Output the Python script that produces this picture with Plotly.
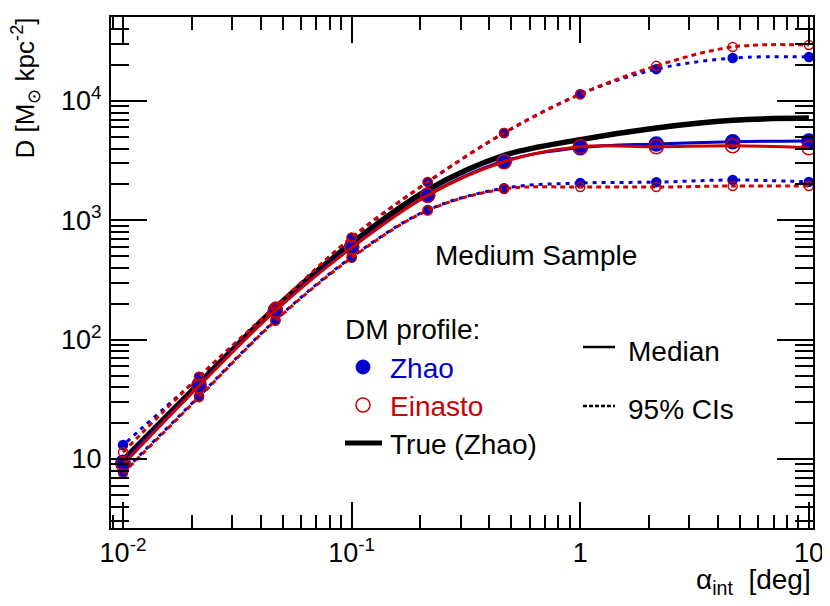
import plotly.graph_objects as go

# integration angle [deg]
alpha = [0.01, 0.0215, 0.0464, 0.1, 0.215, 0.464, 1.0, 2.15, 4.64, 10.0]

# Zhao fit: median and 95% CIs
zhao_med = [9.4, 41.7, 177, 600, 1630, 3140, 4060, 4370, 4560, 4620]
zhao_hi = [13.1, 48.6, 187, 711, 2090, 5400, 11400, 18500, 22900, 23400]
zhao_lo = [7.8, 33.6, 146, 492, 1220, 1860, 2055, 2090, 2180, 2100]

# Einasto fit: median and 95% CIs
ein_med = [9.0, 41.0, 175, 590, 1620, 3100, 4140, 4140, 4220, 4060]
ein_hi = [11.4, 49.0, 190, 720, 2100, 5400, 11400, 19700, 28400, 29400]
ein_lo = [7.6, 33.0, 144, 485, 1210, 1830, 1900, 1900, 1940, 1940]

# true curve (Zhao)
true_zhao = [9.8, 43, 185, 645, 1800, 3500, 4750, 5950, 6900, 7200]

xticks = [0.01, 0.1, 1, 10]
xticktext = ["10<sup>-2</sup>", "10<sup>-1</sup>", "1", "10"]
yticks = [10, 100, 1000, 10000]
yticktext = ["10", "10<sup>2</sup>", "10<sup>3</sup>", "10<sup>4</sup>"]

BLUE = "#0000cc"
RED = "#cc0000"
FONT = "Liberation Sans"

xminor = [m * 10 ** d for d in range(-3, 2) for m in range(2, 10)]
yminor = [m * 10 ** d for d in range(0, 5) for m in range(2, 10)]

fig = go.Figure()

fig.add_trace(go.Scatter(x=alpha, y=true_zhao, mode="lines",
                         line=dict(color="black", width=5.5, shape="spline")))


def add_fit(med, hi, lo, color, symbol, dots):
    for ys, dash, size in [(hi, dots, 9), (lo, dots, 9), (med, "solid", 14)]:
        fig.add_trace(go.Scatter(
            x=alpha, y=ys, mode="lines+markers",
            line=dict(color=color, width=3, dash=dash, shape="spline"),
            marker=dict(symbol=symbol, size=size, color=color,
                        line=dict(color=color, width=1.5))))


# blue dots sit in the gaps of the red ones, as in the original
add_fit(zhao_med, zhao_hi, zhao_lo, BLUE, "circle", "0px,5px,4px,0px")
add_fit(ein_med, ein_hi, ein_lo, RED, "circle-open", "5px,4px")

# the page has an 8px body margin, so the figure starts at (8, 8) in the window
PLOT_L, PLOT_T, PLOT_W, PLOT_H = 103, 9, 702, 511


def px_x(p):
    return (p - 8 - PLOT_L) / float(PLOT_W)


def px_y(p):
    return (PLOT_T + PLOT_H - (p - 8)) / float(PLOT_H)


notes = [
    ("Medium Sample", 536, 255, "center", "black"),
    ("DM profile:", 343, 329, "left", "black"),
    ("Zhao", 388, 368, "left", BLUE),
    ("Einasto", 388, 406, "left", RED),
    ("True (Zhao)", 388, 444, "left", "black"),
    ("Median", 626, 351, "left", "black"),
    ("95% CIs", 626, 409, "left", "black"),
]
for txt, x0, y0, anchor, col in notes:
    fig.add_annotation(text=txt, x=px_x(x0), y=px_y(y0), xref="paper", yref="paper",
                       xanchor=anchor, yanchor="middle", showarrow=False,
                       font=dict(family=FONT, size=28, color=col))

# legend symbols
fig.add_shape(type="circle", xref="paper", yref="paper", xsizemode="pixel", ysizemode="pixel",
              xanchor=px_x(363), yanchor=px_y(367), x0=-7, x1=7, y0=-7, y1=7,
              fillcolor=BLUE, line=dict(color=BLUE, width=1))
fig.add_shape(type="circle", xref="paper", yref="paper", xsizemode="pixel", ysizemode="pixel",
              xanchor=px_x(363), yanchor=px_y(405), x0=-7, x1=7, y0=-7, y1=7,
              line=dict(color=RED, width=1.5))
fig.add_shape(type="line", xref="paper", yref="paper", x0=px_x(345), x1=px_x(382),
              y0=px_y(443), y1=px_y(443), line=dict(color="black", width=5))
fig.add_shape(type="line", xref="paper", yref="paper", x0=px_x(583), x1=px_x(615),
              y0=px_y(347), y1=px_y(347), line=dict(color="black", width=2.5))
fig.add_shape(type="line", xref="paper", yref="paper", x0=px_x(583), x1=px_x(615),
              y0=px_y(406), y1=px_y(406), line=dict(color="black", width=2.5, dash="4px,2px"))

# axis titles
fig.add_annotation(text="D [M<sub>⊙</sub> kpc<sup>-2</sup>]", textangle=-90,
                   x=px_x(25), y=px_y(16), xref="paper", yref="paper",
                   xanchor="center", yanchor="top", showarrow=False,
                   font=dict(family=FONT, size=26, color="black"))
fig.add_annotation(text="α<sub>int</sub>  [deg]", x=1.0, y=px_y(581),
                   xref="paper", yref="paper", xanchor="right", yanchor="middle",
                   showarrow=False, font=dict(family=FONT, size=28, color="black"))

fig.update_xaxes(type="log", range=[-2.0526, 1.0178], tickvals=xticks, ticktext=xticktext,
                 ticks="inside", ticklen=26, tickwidth=1.5, tickcolor="black",
                 showline=True, linewidth=2, linecolor="black", mirror="ticks",
                 showgrid=False, zeroline=False, ticklabelstandoff=0, automargin=False,
                 ticklabeloverflow="allow",
                 minor=dict(tickvals=xminor, ticks="inside", ticklen=13, tickwidth=1.5,
                            tickcolor="black", showgrid=False),
                 tickfont=dict(family=FONT, size=27, color="black"))
fig.update_yaxes(type="log", range=[0.422, 4.704], tickvals=yticks, ticktext=yticktext,
                 ticks="inside", ticklen=36, tickwidth=1.5, tickcolor="black",
                 showline=True, linewidth=2, linecolor="black", mirror="ticks",
                 showgrid=False, zeroline=False, ticklabelstandoff=2, automargin=False,
                 minor=dict(tickvals=yminor, ticks="inside", ticklen=18, tickwidth=1.5,
                            tickcolor="black", showgrid=False),
                 tickfont=dict(family=FONT, size=27, color="black"))

fig.update_layout(width=814, height=590, showlegend=False,
                  plot_bgcolor="white", paper_bgcolor="white",
                  margin=dict(l=PLOT_L, r=814 - PLOT_L - PLOT_W, t=PLOT_T,
                              b=590 - PLOT_T - PLOT_H))

fig.write_html("out.html")
